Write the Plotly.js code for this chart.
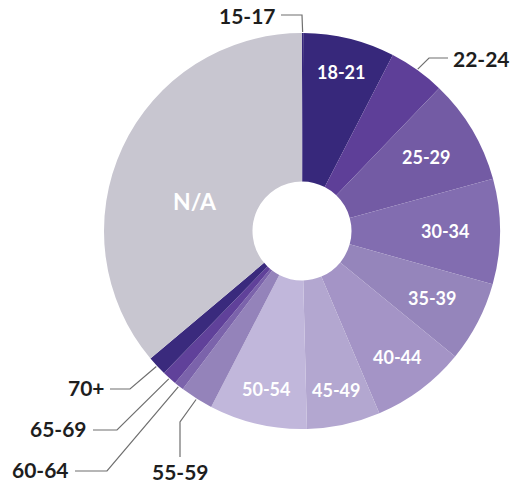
<!DOCTYPE html>
<html>
<head>
<meta charset="utf-8">
<script src="https://cdn.plot.ly/plotly-3.0.1.min.js"></script>
<style>html,body{margin:0;padding:0;background:#fff;}#chart{width:516px;height:485px;}</style>
</head>
<body>
<div id="chart"></div>
<script>
// ---- data ----
var categories = ["15-17","18-21","22-24","25-29","30-34","35-39","40-44","45-49","50-54","55-59","60-64","65-69","70+","N/A"];
var shares     = [0.1, 7.5, 4.6, 8.6, 8.6, 6.6, 7.7, 6.0, 8.0, 2.7, 0.8, 1.2, 1.6, 36.2];
var insideLabels  = ["18-21","25-29","30-34","35-39","40-44","45-49","50-54","N/A"];
var outsideLabels = ["15-17","22-24","55-59","60-64","65-69","70+"];

// ---- styles / placement ----
var colors = ["#37287b","#37287b","#5e3f98","#735ba4","#826db0","#9585bb","#a494c6","#b3a7d0","#c1b7db","#9483ba","#7b63ab","#60419a","#3a2a7d","#c8c6d0"];
var W = 516, H = 485;
var CX = 302, CY = 231, R = 198;
var insideRadius = {"18-21":164,"25-29":144,"30-34":143,"35-39":146,"40-44":158,"45-49":163,"50-54":162,"N/A":111};
var insideAngleNudge = {"N/A":-9.5};
var insideSize = {"N/A":23};
// elbow and end points (px) for leader lines, text anchor
var outsideCfg = {
  "15-17": {elbow:[302,15], end:[281,15], text:[278,15], xanchor:"right"},
  "22-24": {elbow:[429,58], end:[448,58], text:[451,58], xanchor:"left"},
  "70+":   {elbow:[130,389], end:[110,389], text:[107,387], xanchor:"right"},
  "65-69": {elbow:[117,430], end:[93,430], text:[89,428], xanchor:"right"},
  "60-64": {elbow:[107,471], end:[75,471], text:[71,469], xanchor:"right"},
  "55-59": {elbow:[180,422], end:[180,457], text:[180,471], xanchor:"center"}
};

function px2x(x){ return x / W; }
function px2y(y){ return 1 - y / H; }

// cumulative mid-angles (degrees clockwise from 12 o'clock) from data
var total = shares.reduce(function(a,b){return a+b;},0);
var midAngle = {};
var acc = 0;
for (var i = 0; i < categories.length; i++) {
  midAngle[categories[i]] = (acc + shares[i]/2) / total * 360;
  acc += shares[i];
}
function polar(r, deg){
  var t = deg * Math.PI/180;
  return [CX + r*Math.sin(t), CY - r*Math.cos(t)];
}

var annotations = [];
var shapes = [];
insideLabels.forEach(function(lab){
  var p = polar(insideRadius[lab], midAngle[lab] + (insideAngleNudge[lab]||0));
  annotations.push({
    x: px2x(p[0]), y: px2y(p[1]), xref:"paper", yref:"paper",
    text: lab, showarrow:false, xanchor:"center", yanchor:"middle",
    font:{family:"Lato, 'Open Sans', sans-serif", size:(insideSize[lab]||18), color:"#ffffff", weight:700}
  });
});
outsideLabels.forEach(function(lab){
  var c = outsideCfg[lab];
  var e = polar(R+1, midAngle[lab]);
  var path = "M" + px2x(e[0]) + "," + px2y(e[1]) +
             " L" + px2x(c.elbow[0]) + "," + px2y(c.elbow[1]) +
             " L" + px2x(c.end[0]) + "," + px2y(c.end[1]);
  shapes.push({type:"path", xref:"paper", yref:"paper", path:path,
               line:{color:"#6f6f6f", width:1.2}});
  annotations.push({
    x: px2x(c.text[0]), y: px2y(c.text[1]), xref:"paper", yref:"paper",
    text: lab, showarrow:false, xanchor:c.xanchor, yanchor:"middle",
    font:{family:"Lato, 'Open Sans', sans-serif", size:21, color:"#1e1e1e", weight:700}
  });
});

var trace = {
  type:"pie",
  labels: categories,
  values: shares,
  sort:false,
  direction:"clockwise",
  rotation:0,
  hole:0.25,
  textinfo:"none",
  hoverinfo:"label+percent",
  marker:{colors:colors, line:{width:0}},
  domain:{x:[px2x(CX-R), px2x(CX+R)], y:[px2y(CY+R), px2y(CY-R)]},
  showlegend:false
};

var layout = {
  width:W, height:H,
  margin:{l:0,r:0,t:0,b:0},
  paper_bgcolor:"#ffffff",
  plot_bgcolor:"#ffffff",
  showlegend:false,
  annotations:annotations,
  shapes:shapes
};
Plotly.newPlot("chart",[trace],layout,{displayModeBar:false,staticPlot:true});
</script>
</body>
</html>
